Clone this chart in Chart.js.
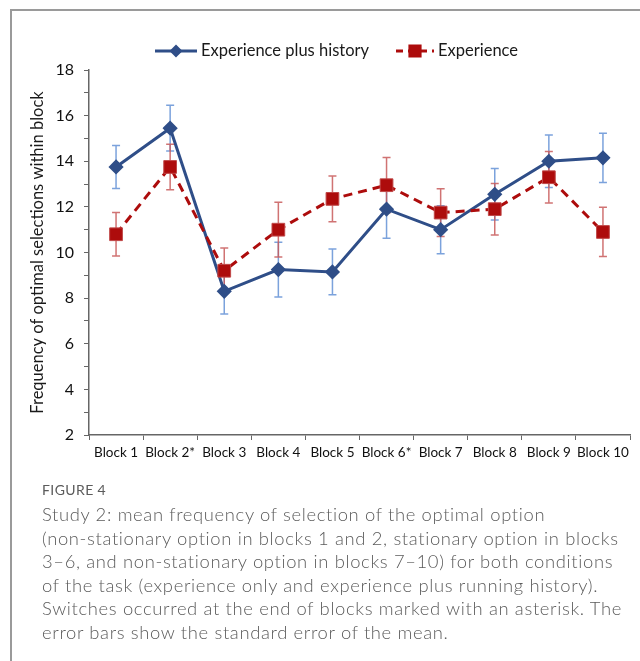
<!DOCTYPE html>
<html>
<head>
<meta charset="utf-8">
<script src="https://cdn.jsdelivr.net/npm/chart.js@4/dist/chart.umd.min.js"></script>
<style>
  html, body { margin: 0; padding: 0; background: #fff; }
  body { width: 640px; height: 661px; position: relative; overflow: hidden; }
  .frame {
    position: absolute; left: 10px; top: 9px; right: -4px; bottom: -4px;
    border-top: 2px solid #9a9a9a; border-left: 2px solid #9a9a9a;
  }
  .plot { position: absolute; left: 0; top: 0; width: 640px; height: 478px; }
  .caption {
    position: absolute; left: 42px; top: 481px; width: 598px;
    font-family: Lato, "Open Sans", sans-serif; color: #5b5b5b; white-space: nowrap;
  }
  .caption .label { font-size: 14px; letter-spacing: 0.4px; margin-bottom: 5px; }
  .caption p { margin: 0; font-size: 18.4px; line-height: 23.5px; font-weight: 300; letter-spacing: 0.65px; }
</style>
</head>
<body>
<div class="plot"><canvas id="chart"></canvas></div>
<div class="frame"></div>
<div class="caption">
  <div class="label">FIGURE 4</div>
  <p>Study 2: mean frequency of selection of the optimal option<br>(non-stationary option in blocks 1 and 2, stationary option in blocks<br>3–6, and non-stationary option in blocks 7–10) for both conditions<br>of the task (experience only and experience plus running history).<br>Switches occurred at the end of blocks marked with an asterisk. The<br>error bars show the standard error of the mean.</p>
</div>
<script>
(() => {
    "use strict";

    const blocks = ["Block 1", "Block 2*", "Block 3", "Block 4", "Block 5",
        "Block 6*", "Block 7", "Block 8", "Block 9", "Block 10"];
    const historyMeans = [13.75, 15.45, 8.3, 9.25, 9.15, 11.9, 11.0, 12.55, 14.0, 14.15];
    const historySE = [0.94, 1.0, 1.0, 1.2, 1.0, 1.27, 1.05, 1.13, 1.15, 1.08];
    const experienceMeans = [10.8, 13.75, 9.2, 11.0, 12.35, 12.95, 11.75, 11.9, 13.3, 10.9];
    const experienceSE = [0.95, 1.0, 1.0, 1.2, 1.0, 1.21, 1.05, 1.13, 1.13, 1.08];

    const FONT = "Lato, 'Open Sans', sans-serif";
    const BLUE = "#2f4e88";
    const RED = "#ad0c0c";

    // vertical SE whiskers, drawn under the lines
    const errorBars = {
        id: "errorBars",
        beforeDatasetsDraw(chart) {
            const { ctx, scales: { y } } = chart;
            ctx.save();
            chart.data.datasets.forEach((ds, i) => {
                const meta = chart.getDatasetMeta(i);
                ctx.strokeStyle = ds.errorColor;
                ctx.lineWidth = 1.5;
                meta.data.forEach((pt, j) => {
                    const top = y.getPixelForValue(ds.data[j] + ds.errors[j]);
                    const bot = y.getPixelForValue(ds.data[j] - ds.errors[j]);
                    ctx.beginPath();
                    ctx.moveTo(pt.x, top); ctx.lineTo(pt.x, bot);
                    ctx.moveTo(pt.x - 4, top); ctx.lineTo(pt.x + 4, top);
                    ctx.moveTo(pt.x - 4, bot); ctx.lineTo(pt.x + 4, bot);
                    ctx.stroke();
                });
            });
            ctx.restore();
        },
    };

    // legend entries: short line sample with the marker in the middle
    const lineLegend = {
        id: "lineLegend",
        afterDraw(chart) {
            const { ctx } = chart;
            const yMid = 51;
            const entries = [
                { ds: chart.data.datasets[0], x0: 155, x1: 197 },
                { ds: chart.data.datasets[1], x0: 396, x1: 434 },
            ];
            ctx.save();
            entries.forEach(({ ds, x0, x1 }) => {
                ctx.strokeStyle = ds.borderColor;
                ctx.lineWidth = 3;
                ctx.setLineDash(ds.borderDash ? [7, 5] : []);
                ctx.beginPath();
                ctx.moveTo(x0, yMid); ctx.lineTo(x1, yMid);
                ctx.stroke();
                ctx.setLineDash([]);
                Chart.helpers.drawPoint(ctx, {
                    pointStyle: ds.pointStyle,
                    radius: ds.pointRadius * 0.8,
                    borderWidth: 1,
                }, (x0 + x1) / 2, yMid);
                ctx.fillStyle = ds.pointBackgroundColor;
                ctx.fill();
                ctx.fillStyle = "#1a1a1a";
                ctx.font = "16.5px " + FONT;
                ctx.textBaseline = "middle";
                ctx.fillText(ds.label, x1 + 4, yMid);
            });
            ctx.restore();
        },
    };

    new Chart(document.getElementById("chart"), {
        type: "line",
        data: {
            labels: blocks,
            datasets: [
                {
                    label: "Experience plus history",
                    data: historyMeans,
                    errors: historySE,
                    errorColor: "rgba(100,146,214,0.85)",
                    borderColor: BLUE,
                    borderWidth: 3,
                    pointStyle: "rectRot",
                    pointRadius: 5.5,
                    pointBackgroundColor: BLUE,
                    pointBorderColor: BLUE,
                    order: 1,
                },
                {
                    label: "Experience",
                    data: experienceMeans,
                    errors: experienceSE,
                    errorColor: "rgba(200,90,90,0.85)",
                    borderColor: RED,
                    borderWidth: 3,
                    borderDash: [9, 6],
                    pointStyle: "rect",
                    pointRadius: 9,
                    pointBackgroundColor: RED,
                    pointBorderColor: "#c04848",
                    pointBorderWidth: 1,
                    order: 0,
                },
            ],
        },
        options: {
            responsive: true,
            maintainAspectRatio: false,
            animation: false,
            layout: { padding: { top: 70, right: 10, left: 0, bottom: 0 } },
            plugins: {
                legend: { display: false },
                tooltip: { enabled: false },
            },
            scales: {
                x: {
                    offset: true,
                    afterFit: (s) => { s.height = 43; },
                    border: { color: "#666", width: 1.5 },
                    grid: {
                        offset: true,
                        drawOnChartArea: false,
                        tickLength: 5,
                        color: "#666",
                    },
                    ticks: {
                        autoSkip: false,
                        maxRotation: 0,
                        padding: 5,
                        color: "#111",
                        font: { family: FONT, size: 13.5 },
                    },
                },
                y: {
                    min: 2,
                    max: 18,
                    afterFit: (s) => { s.width = 89; },
                    border: { color: "#666", width: 1.5 },
                    grid: { drawOnChartArea: false, tickLength: 5, color: "#666" },
                    ticks: {
                        stepSize: 1,
                        autoSkip: false,
                        padding: 10,
                        color: "#111",
                        font: { family: FONT, size: 16 },
                        callback: (v) => (v % 2 === 0 ? v : ""),
                    },
                    title: {
                        display: true,
                        text: "Frequency of optimal selections within block",
                        color: "#1a1a1a",
                        font: { family: FONT, size: 16.5 },
                        padding: { top: 28, bottom: 0 },
                    },
                },
            },
        },
        plugins: [errorBars, lineLegend],
    });
})();
</script>
</body>
</html>
